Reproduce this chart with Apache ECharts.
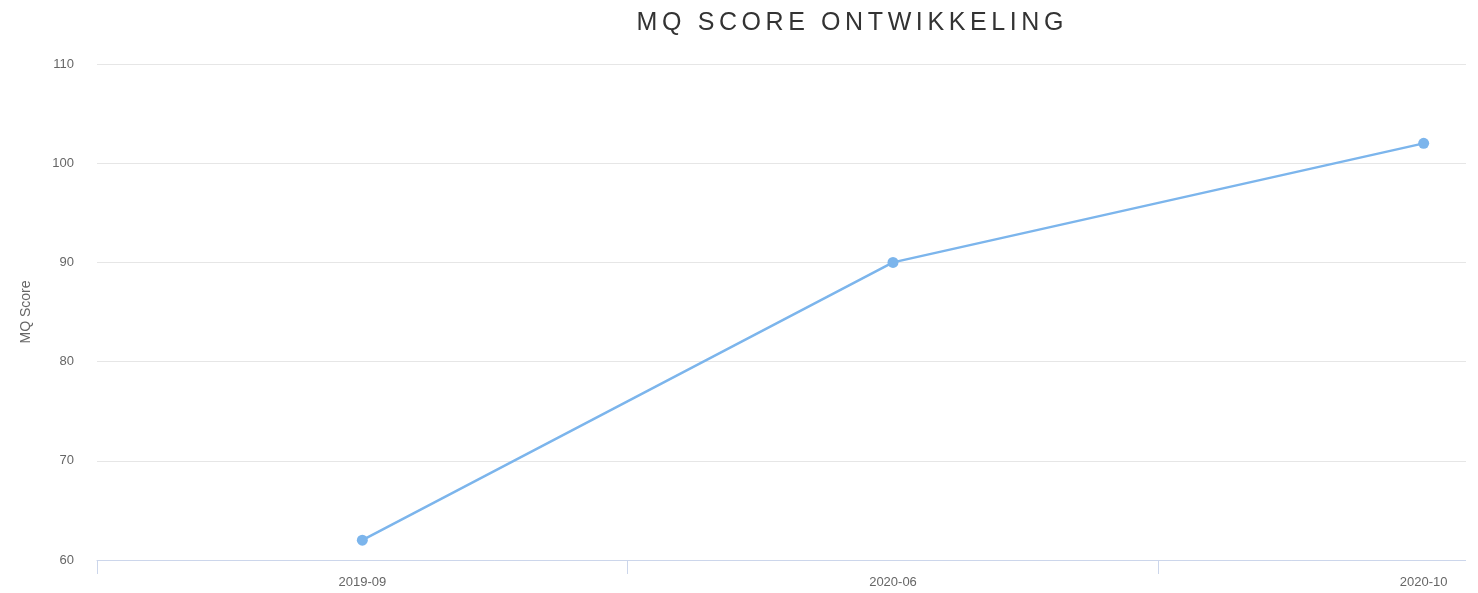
<!DOCTYPE html>
<html>
<head>
<meta charset="utf-8">
<script src="https://cdn.jsdelivr.net/npm/echarts@6/dist/echarts.min.js"></script>
<style>
  html, body { margin: 0; padding: 0; background: #fff; }
  #wrap { position: relative; width: 1466px; height: 593px; overflow: hidden; }
  #chart { width: 1700px; height: 593px; }
  #title {
    position: absolute; left: 0; top: 6px; width: 1700px; text-align: center;
    font-family: 'Liberation Sans', Helvetica, Arial, sans-serif;
    font-size: 25px; color: #333; letter-spacing: 4.6px; line-height: 30px;
    padding-left: 4.6px; box-sizing: border-box;
    pointer-events: none;
  }
</style>
</head>
<body>
<div id="wrap">
  <div id="chart"></div>
  <div id="title">MQ SCORE ONTWIKKELING</div>
</div>
<script>
var categories = ['2019-09', '2020-06', '2020-10'];
var scores = [62, 90, 102];

var chart = echarts.init(document.getElementById('chart'));

var option = {
  animation: false,
  grid: { left: 97, right: 11, top: 64, bottom: 33 },
  xAxis: {
    type: 'category',
    data: categories,
    boundaryGap: true,
    axisLine: { show: true, lineStyle: { color: '#ccd6eb', width: 1 } },
    axisTick: { show: true, interval: 0, length: 14, lineStyle: { color: '#ccd6eb', width: 1 } },
    axisLabel: {
      margin: 16,
      color: '#666666',
      fontSize: 13,
      fontFamily: 'Liberation Sans, Helvetica, Arial, sans-serif'
    },
    splitLine: { show: false }
  },
  yAxis: {
    type: 'value',
    min: 60,
    max: 110,
    interval: 10,
    name: 'MQ Score',
    nameLocation: 'middle',
    nameGap: 64,
    nameTextStyle: {
      color: '#666666',
      fontSize: 14,
      fontFamily: 'Liberation Sans, Helvetica, Arial, sans-serif'
    },
    axisLine: { show: false },
    axisTick: { show: false },
    axisLabel: {
      margin: 23,
      color: '#666666',
      fontSize: 13,
      fontFamily: 'Liberation Sans, Helvetica, Arial, sans-serif'
    },
    splitLine: { lineStyle: { color: '#e6e6e6', width: 1 } }
  },
  series: [{
    type: 'line',
    data: scores,
    symbol: 'circle',
    symbolSize: 11,
    lineStyle: { color: '#7cb5ec', width: 2.5 },
    itemStyle: { color: '#7cb5ec' }
  }]
};

chart.setOption(option);
</script>
</body>
</html>
